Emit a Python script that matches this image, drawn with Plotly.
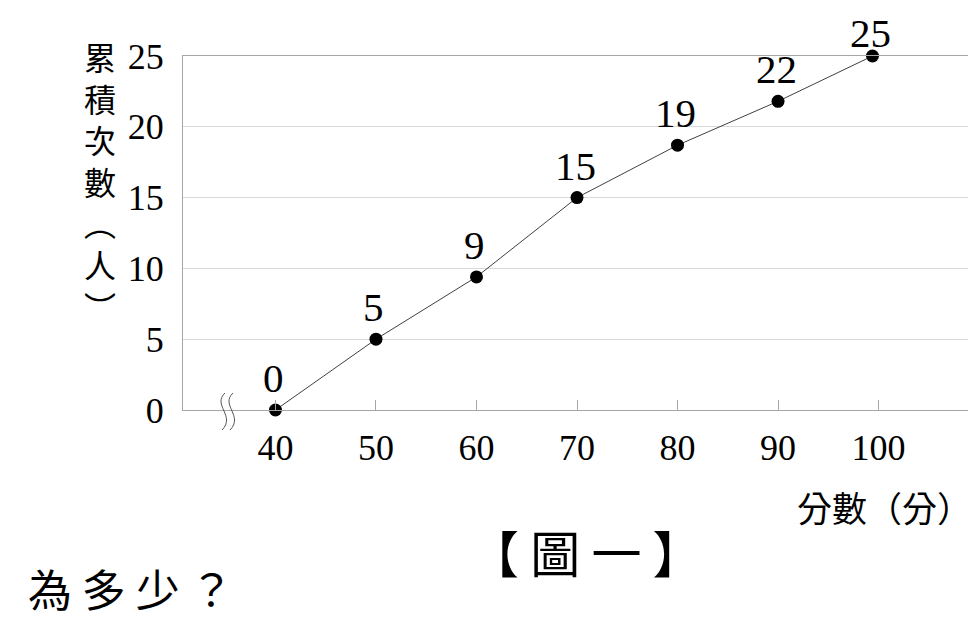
import plotly.graph_objects as go

# score (x) vs cumulative count (y)
scores = [40, 50, 60, 70, 80, 90, 99.4]
cum_counts = [0, 5, 9.4, 15, 18.7, 21.8, 25]
point_labels = ["0", "5", "9", "15", "19", "22", "25"]
x_ticks = [40, 50, 60, 70, 80, 90, 100]
y_ticks = [0, 5, 10, 15, 20, 25]

SERIF = "Liberation Serif, Times New Roman, serif"
CJK = "Noto Sans CJK TC, Noto Sans CJK SC, sans-serif"
AXIS_GRAY = "#a6a6a6"

# the page body adds an 8px margin, so the figure is shifted by that much
OFF = 8
W, H = 976, 625
# plot area wanted on screen: x 183..970, y 56..410
L, T = 183 - OFF, 56 - OFF
R, B = W - (970 - OFF), H - (410 - OFF)
pw, ph = W - L - R, H - T - B


def px(xs):
    return (xs - OFF - L) / pw


def py(ys):
    return (H - B - (ys - OFF)) / ph


fig = go.Figure()
fig.add_trace(go.Scatter(
    x=scores,
    y=cum_counts,
    mode="lines+markers",
    line=dict(color="#404040", width=1),
    marker=dict(color="black", size=13),
    cliponaxis=False,
    hoverinfo="skip",
))

# axis break mark (two small wavy strokes left of 40)
shapes = []
for dx in (0, 8):
    x0 = 225 + dx
    path = (f"M {px(x0)},{py(393)} C {px(x0 - 13)},{py(405)} "
            f"{px(x0 + 11)},{py(416)} {px(x0 - 3)},{py(430)}")
    shapes.append(dict(type="path", xref="paper", yref="paper", path=path,
                       line=dict(color="#555555", width=1)))

annotations = []
# value labels above each point; the top one sits lower, touching its dot
for i, (xv, yv, lab) in enumerate(zip(scores, cum_counts, point_labels)):
    last = i == len(scores) - 1
    annotations.append(dict(
        x=xv, y=yv, text=lab, showarrow=False,
        xanchor="center", yanchor="middle",
        yshift=23 if last else 32, xshift=-2,
        font=dict(family=SERIF, size=41, color="black"),
    ))

annotations += [
    dict(text="累<br>積<br>次<br>數<br>︵<br>人<br>︶", xref="paper", yref="paper",
         x=px(100), y=py(181), xanchor="center", yanchor="middle",
         showarrow=False, align="center",
         font=dict(family=CJK, size=32, color="black")),
    dict(text="分數（分）", xref="paper", yref="paper", x=px(974), y=py(507),
         xanchor="right", yanchor="middle", showarrow=False,
         font=dict(family=CJK, size=35, color="black")),
    dict(text="【 圖 一 】", xref="paper", yref="paper", x=px(586), y=py(551),
         xanchor="center", yanchor="middle", showarrow=False,
         font=dict(family=CJK, size=50, color="black")),
    dict(text="為 多 少 ？", xref="paper", yref="paper", x=px(26), y=py(622),
         xanchor="left", yanchor="bottom", showarrow=False,
         font=dict(family=CJK, size=44, color="black")),
]

fig.update_layout(
    width=W, height=H,
    margin=dict(l=L, r=R, t=T, b=B, pad=0),
    plot_bgcolor="white", paper_bgcolor="white",
    showlegend=False,
    shapes=shapes,
    annotations=annotations,
)
fig.update_xaxes(
    range=[30.8, 109.1],
    tickvals=x_ticks,
    ticks="inside", ticklen=10, tickcolor=AXIS_GRAY, tickwidth=1,
    showgrid=False, zeroline=False,
    showline=True, linecolor=AXIS_GRAY, linewidth=1, mirror=True,
    tickfont=dict(family=SERIF, size=36, color="black"),
    ticklabelstandoff=6,
)
fig.update_yaxes(
    range=[0, 25],
    tickvals=y_ticks,
    ticks="",
    showgrid=True, gridcolor="#d9d9d9", gridwidth=1, zeroline=False,
    showline=True, linecolor=AXIS_GRAY, linewidth=1, mirror=True,
    tickfont=dict(family=SERIF, size=36, color="black"),
    ticklabelstandoff=11,
)

fig.write_html("out.html")
